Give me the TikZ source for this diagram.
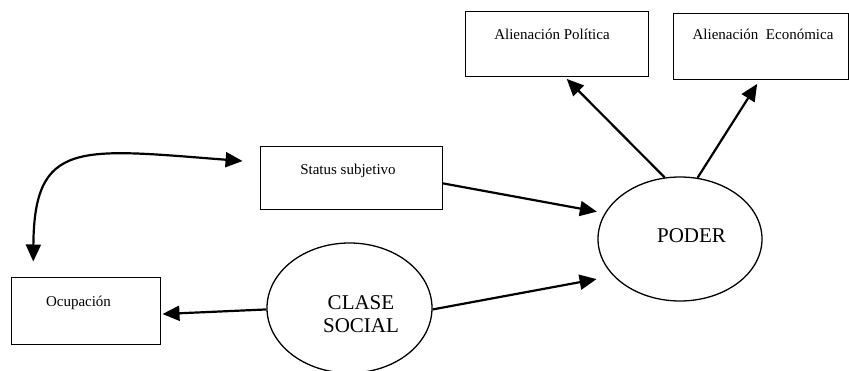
\documentclass[tikz,border=0pt]{standalone}
\usepackage{fontspec}
\setmainfont{Liberation Serif}
\usetikzlibrary{arrows.meta,shapes.geometric}
\tikzset{
  box/.style={draw,line width=1pt,rectangle,inner sep=0pt},
  oval/.style={draw,line width=1.3pt,ellipse,inner sep=0pt},
  txt/.style={anchor=base,inner sep=0pt,font=\fontsize{15}{18}\selectfont},
  big/.style={anchor=base,inner sep=0pt,font=\fontsize{21}{23}\selectfont},
  conn/.style={line width=2.2pt,-{Triangle[length=17pt,width=15pt]}},
  dconn/.style={line width=2.2pt,{Triangle[length=17pt,width=15pt]}-{Triangle[length=17pt,width=15pt]}}
}
\begin{document}
\begin{tikzpicture}[x=1pt,y=-1pt]
\useasboundingbox (0,0) rectangle (849,371);
% boxes
\node[box,minimum width=183pt,minimum height=65pt] (pol) at (556.5,44.5) {};
\node[box,minimum width=175pt,minimum height=66pt] (eco) at (760.5,47) {};
\node[box,minimum width=182pt,minimum height=63pt] (stat) at (351,178.5) {};
\node[box,minimum width=149pt,minimum height=67pt] (ocu) at (85.5,311.5) {};
% ellipses
\node[oval,minimum width=164pt,minimum height=124pt] (poder) at (680,239) {};
\node[oval,minimum width=165pt,minimum height=130pt] (clase) at (349.5,308) {};
% texts
\node[txt] (poltxt) at (552,40) {Alienación Política};
\node[txt] (ecotxt) at (763,40) {Alienación\ \ Económica};
\node[txt] (stattxt) at (348,175) {Status subjetivo};
\node[txt] (ocutxt) at (78.5,307) {Ocupación};
\node[big] (podertxt) at (691.5,243) {PODER};
\node[big] (clasetxt) at (361,310) {CLASE};
\node[big] (socialtxt) at (361,333) {SOCIAL};
% connectors
\draw[conn,shorten >=8pt] (stat.-3) -- (poder.161);
\draw[conn,shorten >=17pt] (clase.-1) -- (poder.209);
\draw[conn,shorten >=2pt] (clase.181) -- (ocu.-2);
\draw[conn,shorten >=2pt] (poder.104) -- (pol.-75);
\draw[conn,shorten >=4pt] (poder.74) -- (eco.-92);
\draw[dconn,shorten <=16pt,shorten >=17pt] (ocu.147) .. controls +(1,-138) and +(-180,-14) .. (stat.170);
\end{tikzpicture}
\end{document}
